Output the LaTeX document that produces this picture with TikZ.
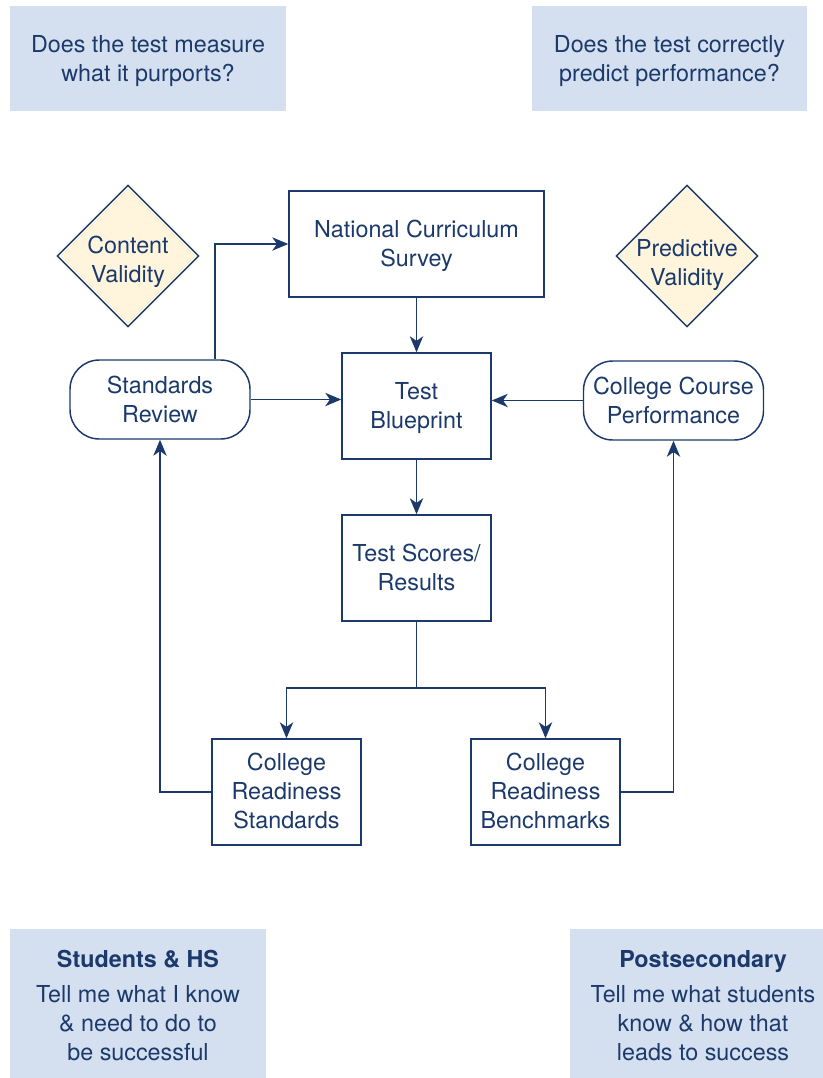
\documentclass[tikz,border=0pt]{standalone}
\usepackage{fontspec}
\setmainfont{TeX Gyre Heros}
\usetikzlibrary{arrows.meta,shapes.geometric}
\definecolor{navy}{HTML}{1B3A6B}
\definecolor{bluefill}{HTML}{D4DFF0}
\definecolor{creamfill}{HTML}{FEF5DC}
\tikzset{
  every node/.style={text=navy, font=\fontsize{17.5}{21.75}\selectfont, align=center},
  infobox/.style={fill=bluefill, draw=none, inner sep=0pt},
  procbox/.style={draw=navy, line width=1.1pt, fill=white, inner sep=0pt, minimum width=111.75pt, minimum height=79.5pt},
  roundbox/.style={draw=navy, line width=1.1pt, fill=white, rounded corners=22pt, inner sep=0pt, minimum width=135pt, minimum height=59.25pt},
  validity/.style={diamond, draw=navy, line width=1.1pt, fill=creamfill, inner sep=0pt, minimum width=106.5pt, minimum height=106.5pt},
  conn/.style={draw=navy, line width=1.1pt, -{Stealth[length=12pt,width=10pt,inset=3.5pt]}},
  plainconn/.style={draw=navy, line width=1.1pt}
}
\newcommand{\dtext}[3]{\makebox[0pt][c]{\raisebox{#1}[0pt][0pt]{\begin{tabular}{@{}c@{}}#2\\#3\end{tabular}}}}
\newcommand{\lowered}[2]{\raisebox{#1}[\height][\depth]{\begin{tabular}{@{}c@{}}#2\end{tabular}}}
\begin{document}
\begin{tikzpicture}[x=0.75pt,y=-0.75pt]
\useasboundingbox (0,0) rectangle (822,1078);
% info boxes
\node[infobox, minimum width=207pt, minimum height=78.75pt] (q1) at (148,58.5) {\lowered{-2.25pt}{Does the test measure\\what it purports?}};
\node[infobox, minimum width=206.25pt, minimum height=78.75pt] (q2) at (669.5,58.5) {\lowered{-2.25pt}{Does the test correctly\\predict performance?}};
\node[infobox, minimum width=192pt, minimum height=111.75pt] (stu) at (138,1003.5) {\lowered{-3.5pt}{\textbf{Students \& HS}\\[5pt]Tell me what I know\\\& need to do to\\be successful}};
\node[infobox, minimum width=199.5pt, minimum height=111.75pt] (post) at (703,1003.5) {\lowered{-3.5pt}{\textbf{Postsecondary}\\[5pt]Tell me what students\\know \& how that\\leads to success}};
% diamonds
\node[validity] (cv) at (128,256) {\dtext{-9pt}{Content}{Validity}};
\node[validity] (pv) at (687,256) {\dtext{-11pt}{Predictive}{Validity}};
% process boxes
\node[procbox, minimum width=191.25pt] (ncs) at (416.5,244) {\lowered{-2pt}{National Curriculum\\Survey}};
\node[procbox] (tb) at (416.5,406) {\lowered{-2pt}{Test\\Blueprint}};
\node[procbox] (ts) at (416.5,568) {\lowered{-2pt}{Test Scores/\\Results}};
\node[procbox] (crs) at (286.5,792) {\lowered{-1pt}{College\\Readiness\\Standards}};
\node[procbox] (crb) at (545.5,792) {\lowered{-1pt}{College\\Readiness\\Benchmarks}};
\node[roundbox] (sr) at (160,399.5) {Standards\\Review};
\node[roundbox] (ccp) at (673.5,400.5) {College Course\\Performance};
\coordinate (split) at (416.5,688);
% connectors
\draw[conn] ([xshift=41.25pt]sr.north) |- (ncs.west);
\draw[conn] (ncs.south) -- (tb.north);
\draw[conn] (sr.east) -- (sr.east -| tb.west);
\draw[conn] (ccp.west) -- (ccp.west -| tb.east);
\draw[conn] (tb.south) -- (ts.north);
\draw[plainconn] (ts.south) -- (split);
\draw[conn] (split) -| (crs.north);
\draw[conn] (split) -| (crb.north);
\draw[conn] (crs.west) -| (sr.south);
\draw[conn] (crb.east) -| (ccp.south);
\end{tikzpicture}
\end{document}
